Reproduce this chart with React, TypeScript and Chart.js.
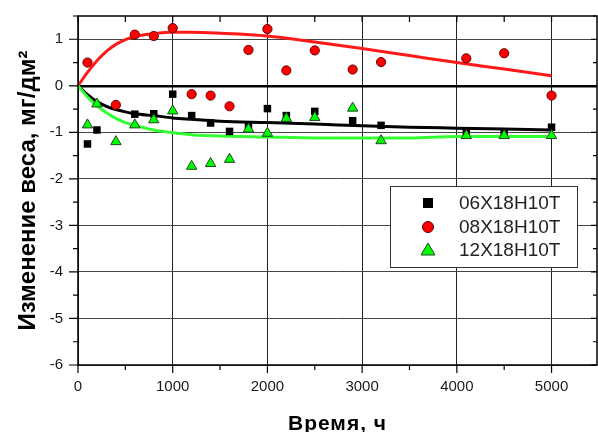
import React, { useEffect, useRef } from 'react';
import { Chart, registerables } from 'chart.js';

Chart.register(...registerables);

// ---- data ----
const time06 = [100, 200, 600, 800, 1000, 1200, 1400, 1600, 1800, 2000, 2200, 2500, 2900, 3200, 4100, 4500, 5000];
const weight06 = [-1.25, -0.95, -0.61, -0.6, -0.18, -0.64, -0.8, -0.98, -0.86, -0.49, -0.64, -0.55, -0.75, -0.85, -1.02, -1.02, -0.89];

const time08 = [100, 400, 600, 800, 1000, 1200, 1400, 1600, 1800, 2000, 2200, 2500, 2900, 3200, 4100, 4500, 5000];
const weight08 = [0.5, -0.41, 1.1, 1.07, 1.24, -0.18, -0.21, -0.44, 0.77, 1.22, 0.33, 0.76, 0.35, 0.51, 0.59, 0.7, -0.21];

const time12 = [100, 200, 400, 600, 800, 1000, 1200, 1400, 1600, 1800, 2000, 2200, 2500, 2900, 3200, 4100, 4500, 5000];
const weight12 = [-0.84, -0.39, -1.2, -0.84, -0.73, -0.54, -1.73, -1.67, -1.58, -0.93, -1.02, -0.7, -0.68, -0.48, -1.18, -1.07, -1.07, -1.07];

const fitTime = [0, 100, 200, 300, 400, 500, 600, 800, 1000, 1200, 1500, 2000, 2500, 3000, 3500, 4000, 4500, 5000];
const fit06 = [0, -0.19, -0.34, -0.44, -0.51, -0.56, -0.6, -0.64, -0.69, -0.72, -0.76, -0.79, -0.82, -0.86, -0.89, -0.91, -0.93, -0.95];
const fit08 = [0, 0.29, 0.54, 0.74, 0.89, 0.99, 1.06, 1.12, 1.15, 1.15, 1.13, 1.07, 0.94, 0.8, 0.65, 0.5, 0.36, 0.215];
const fit12 = [0, -0.24, -0.43, -0.58, -0.7, -0.79, -0.85, -0.95, -1.01, -1.05, -1.08, -1.1, -1.12, -1.12, -1.12, -1.09, -1.09, -1.09];

const seriesNames = ['06Х18Н10Т', '08Х18Н10Т', '12Х18Н10Т'];
const xTicks = [0, 1000, 2000, 3000, 4000, 5000];
const xMinorTicks = [500, 1500, 2500, 3500, 4500, 5500];
const yTicks = [-6, -5, -4, -3, -2, -1, 0, 1];
const yMinorTicks = [-5.5, -4.5, -3.5, -2.5, -1.5, -0.5, 0.5, 1.5];
const xTitle = 'Время, ч';
const yTitle = 'Изменение веса, мг/дм²';

const pts = (xs: number[], ys: number[]) => xs.map((x, i) => ({ x, y: ys[i] }));

const zeroPad = (s: any) => {
  s.paddingTop = 0;
  s.paddingBottom = 0;
  s.paddingLeft = 0;
  s.paddingRight = 0;
};

const decor = {
  id: 'decor',
  afterDraw(chart: any) {
    const { ctx, chartArea: a, scales } = chart;
    const x = scales.x;
    const y = scales.y;
    ctx.save();
    // frame
    ctx.strokeStyle = '#000';
    ctx.lineWidth = 1.5;
    ctx.strokeRect(a.left, a.top, a.right - a.left, a.bottom - a.top);
    ctx.lineWidth = 1.2;
    ctx.beginPath();
    yTicks.forEach((v) => {
      const py = y.getPixelForValue(v);
      ctx.moveTo(a.left - 9, py);
      ctx.lineTo(a.left, py);
      ctx.moveTo(a.right, py);
      ctx.lineTo(a.right - 6, py);
    });
    yMinorTicks.forEach((v) => {
      const py = y.getPixelForValue(v);
      if (py < a.top - 0.5) return;
      ctx.moveTo(a.left - 5, py);
      ctx.lineTo(a.left, py);
      ctx.moveTo(a.right, py);
      ctx.lineTo(a.right - 4, py);
    });
    xTicks.forEach((v) => {
      const px = x.getPixelForValue(v);
      ctx.moveTo(px, a.bottom + 8);
      ctx.lineTo(px, a.bottom);
      ctx.moveTo(px, a.top);
      ctx.lineTo(px, a.top + 6);
    });
    xMinorTicks.forEach((v) => {
      const px = x.getPixelForValue(v);
      if (px > a.right + 0.5) return;
      ctx.moveTo(px, a.bottom + 5);
      ctx.lineTo(px, a.bottom);
      ctx.moveTo(px, a.top);
      ctx.lineTo(px, a.top + 6);
    });
    ctx.stroke();

    // axis titles
    ctx.fillStyle = '#000';
    ctx.textAlign = 'center';
    ctx.textBaseline = 'alphabetic';
    ctx.font = 'bold 21px Arial, "Liberation Sans", sans-serif';
    (ctx as any).letterSpacing = '1px';
    ctx.fillText(xTitle, (a.left + a.right) / 2, 430);
    (ctx as any).letterSpacing = '0px';
    ctx.save();
    ctx.translate(35, (a.top + a.bottom) / 2);
    ctx.rotate(-Math.PI / 2);
    ctx.font = 'bold 24px Arial, "Liberation Sans", sans-serif';
    ctx.fillText(yTitle, 0, 0);
    ctx.restore();

    // legend
    const lx = 390, ly = 186, lw = 187, lh = 81;
    ctx.fillStyle = '#fff';
    ctx.fillRect(lx, ly, lw, lh);
    ctx.strokeStyle = '#333';
    ctx.lineWidth = 1;
    ctx.strokeRect(lx + 0.5, ly + 0.5, lw, lh);
    const rows = [203, 227, 250];
    const mx = 428;
    ctx.fillStyle = '#000';
    ctx.fillRect(mx - 5, rows[0] - 5, 10, 10);
    ctx.beginPath();
    ctx.arc(mx, rows[1], 5.5, 0, Math.PI * 2);
    ctx.fillStyle = '#ff0000';
    ctx.fill();
    ctx.strokeStyle = '#600';
    ctx.stroke();
    ctx.beginPath();
    ctx.moveTo(mx, rows[2] - 7);
    ctx.lineTo(mx + 7, rows[2] + 5);
    ctx.lineTo(mx - 7, rows[2] + 5);
    ctx.closePath();
    ctx.fillStyle = '#00ff00';
    ctx.fill();
    ctx.strokeStyle = '#224422';
    ctx.stroke();
    ctx.fillStyle = '#222';
    ctx.font = '19px Arial, "Liberation Sans", sans-serif';
    ctx.textAlign = 'left';
    ctx.textBaseline = 'middle';
    seriesNames.forEach((n, i) => ctx.fillText(n, 459, rows[i] + 1));
    ctx.restore();
  },
};

export default function App() {
  const ref = useRef<HTMLCanvasElement>(null);
  useEffect(() => {
    document.body.style.margin = '0';
    const chart = new Chart(ref.current as HTMLCanvasElement, {
      type: 'scatter',
      data: {
        datasets: [
          {
            label: seriesNames[2],
            data: pts(time12, weight12),
            pointStyle: 'triangle',
            pointRadius: 6,
            backgroundColor: '#00ff00',
            borderColor: '#224422',
            borderWidth: 1,
            order: 1,
          },
          {
            label: seriesNames[1],
            data: pts(time08, weight08),
            pointStyle: 'circle',
            pointRadius: 4.6,
            backgroundColor: '#ff0000',
            borderColor: '#660000',
            borderWidth: 1,
            order: 2,
          },
          {
            label: seriesNames[0],
            data: pts(time06, weight06),
            pointStyle: 'rect',
            pointRadius: 5.3,
            backgroundColor: '#000',
            borderColor: '#000',
            borderWidth: 0,
            order: 3,
          },
          {
            label: 'fit12',
            data: pts(fitTime, fit12),
            showLine: true,
            borderColor: '#33ff33',
            borderWidth: 3,
            pointRadius: 0,
            cubicInterpolationMode: 'monotone',
            order: 10,
          },
          {
            label: 'fit06',
            data: pts(fitTime, fit06),
            showLine: true,
            borderColor: '#000',
            borderWidth: 3,
            pointRadius: 0,
            cubicInterpolationMode: 'monotone',
            order: 11,
          },
          {
            label: 'fit08',
            data: pts(fitTime, fit08),
            showLine: true,
            borderColor: '#ff1a1a',
            borderWidth: 3,
            pointRadius: 0,
            cubicInterpolationMode: 'monotone',
            order: 12,
          },
        ] as any,
      },
      options: {
        responsive: false,
        animation: false,
        devicePixelRatio: 1,
        layout: { autoPadding: false, padding: { left: 0, right: 1, top: 16, bottom: 0 } },
        plugins: { legend: { display: false }, tooltip: { enabled: false } },
        scales: {
          x: {
            type: 'linear',
            min: 0,
            max: 5480,
            afterBuildTicks: (s: any) => {
              s.ticks = xTicks.map((v) => ({ value: v }));
            },
            afterFit: (s: any) => {
              s.height = 67;
              zeroPad(s);
            },
            grid: { color: '#222', lineWidth: 1, drawTicks: false },
            border: { display: false },
            ticks: {
              padding: 13,
              color: '#1a1a1a',
              font: { family: 'Arial, "Liberation Sans", sans-serif', size: 15 },
              maxRotation: 0,
              callback: (v: any) => String(v),
            },
          },
          y: {
            type: 'linear',
            min: -6,
            max: 1.5,
            afterBuildTicks: (s: any) => {
              s.ticks = yTicks.map((v) => ({ value: v }));
            },
            afterFit: (s: any) => {
              s.width = 78;
              zeroPad(s);
            },
            grid: {
              color: (c: any) => (c.tick && c.tick.value === 0 ? '#000' : '#444'),
              lineWidth: (c: any) => (c.tick && c.tick.value === 0 ? 2.5 : 1),
              drawTicks: false,
            },
            border: { display: false },
            ticks: {
              padding: 15,
              color: '#1a1a1a',
              font: { family: 'Arial, "Liberation Sans", sans-serif', size: 15 },
              callback: (v: any) => String(v),
            },
          },
        },
      },
      plugins: [decor],
    });
    return () => chart.destroy();
  }, []);
  return (
    <div style={{ width: 598, height: 432 }}>
      <canvas ref={ref} width={598} height={432} style={{ display: 'block', width: 598, height: 432 }} />
    </div>
  );
}
